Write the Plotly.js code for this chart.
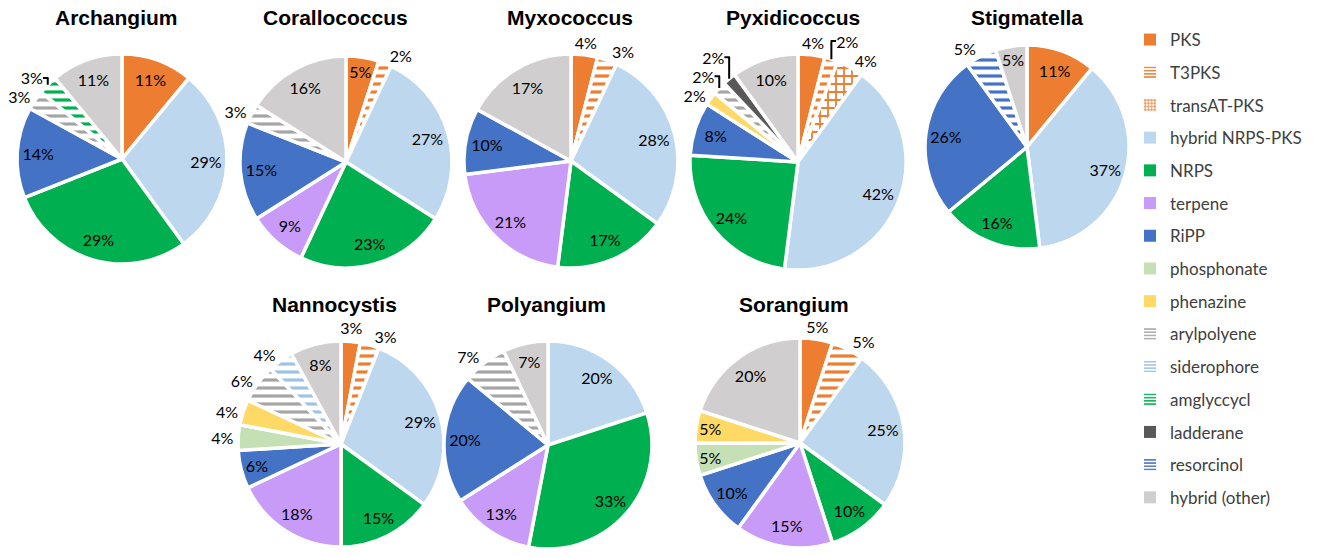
<!DOCTYPE html>
<html>
<head>
<meta charset="utf-8">
<script src="https://cdn.plot.ly/plotly-3.0.1.min.js"></script>
<style>
  html, body { margin: 0; padding: 0; background: #fff; }
  #chart { width: 1325px; height: 558px; }
</style>
</head>
<body>
<div id="chart"></div>
<script>
// BGC class order (also the clockwise slice order, starting at 12 o'clock)
const CATEGORIES = [
  "PKS", "T3PKS", "transAT-PKS", "hybrid NRPS-PKS", "NRPS", "terpene", "RiPP",
  "phosphonate", "phenazine", "arylpolyene", "siderophore", "amglyccycl",
  "ladderane", "resorcinol", "hybrid (other)",
];

// percent of BGCs per genus, same order as CATEGORIES (0 = class absent)
const ARCHANGIUM    = [11, 0, 0, 29, 29, 0, 14, 0, 0, 3, 0, 3, 0, 0, 11];
const CORALLOCOCCUS = [5, 2, 0, 27, 23, 9, 15, 0, 0, 3, 0, 0, 0, 0, 16];
const MYXOCOCCUS    = [4, 3, 0, 28, 17, 21, 10, 0, 0, 0, 0, 0, 0, 0, 17];
const PYXIDICOCCUS  = [4, 2, 4, 42, 24, 0, 8, 0, 2, 2, 0, 0, 2, 0, 10];
const STIGMATELLA   = [11, 0, 0, 37, 16, 0, 26, 0, 0, 0, 0, 0, 0, 5, 5];
const NANNOCYSTIS   = [3, 3, 0, 29, 15, 18, 6, 4, 4, 6, 4, 0, 0, 0, 8];
const POLYANGIUM    = [0, 0, 0, 20, 33, 13, 20, 0, 0, 7, 0, 0, 0, 0, 7];
const SORANGIUM     = [5, 5, 0, 25, 10, 15, 10, 5, 5, 0, 0, 0, 0, 0, 20];

// --- styling ---------------------------------------------------------------
const W = 1325, H = 558;

const COLORS = [
  "#ED7D31", "#ED7D31", "#ED7D31", "#BDD7EE", "#00B050", "#C79BF7", "#4472C4",
  "#C5E0B4", "#FFD966", "#A5A5A5", "#9DC3E6", "#00B050", "#595959", "#4472C4",
  "#D0CECE",
];
// "" = solid fill, otherwise a hatch on white
const SHAPES = ["", "-", "+", "", "", "", "", "", "", "-", "-", "-", "", "-", ""];

// small slices labelled off the pie:
//   "out"  = plotly outside label (stacked per quadrant)
//   "ring" = centred just above the rim (via a transparent ring overlay)
const OFF_PIE = {
  Archangium: { arylpolyene: "out", amglyccycl: "out" },
  Corallococcus: { T3PKS: "out", arylpolyene: "out" },
  Myxococcus: { PKS: "ring", T3PKS: "out" },
  Pyxidicoccus: {
    PKS: "ring", T3PKS: "out", "transAT-PKS": "out",
    phenazine: "out", arylpolyene: "out", ladderane: "out",
  },
  Stigmatella: { resorcinol: "out" },
  Nannocystis: {
    PKS: "ring", T3PKS: "out", phosphonate: "out",
    phenazine: "out", arylpolyene: "out", siderophore: "out",
  },
  Polyangium: { arylpolyene: "out" },
  Sorangium: { PKS: "ring", T3PKS: "out" },
};

// pie centre / radius and title position, in pixels
const PANELS = [
  { name: "Archangium",    values: ARCHANGIUM,    cx: 122,  cy: 159, r: 105, tx: 116,  ty: 17 },
  { name: "Corallococcus", values: CORALLOCOCCUS, cx: 346,  cy: 162, r: 106, tx: 335,  ty: 17 },
  { name: "Myxococcus",    values: MYXOCOCCUS,    cx: 571,  cy: 161, r: 107, tx: 570,  ty: 17 },
  { name: "Pyxidicoccus",  values: PYXIDICOCCUS,  cx: 798,  cy: 162, r: 108, tx: 793,  ty: 17 },
  { name: "Stigmatella",   values: STIGMATELLA,   cx: 1027, cy: 147, r: 102, tx: 1027, ty: 17 },
  { name: "Nannocystis",   values: NANNOCYSTIS,   cx: 341,  cy: 444, r: 103, tx: 334,  ty: 304 },
  { name: "Polyangium",    values: POLYANGIUM,    cx: 548,  cy: 445, r: 104, tx: 546,  ty: 304 },
  { name: "Sorangium",     values: SORANGIUM,     cx: 800,  cy: 443, r: 105, tx: 794,  ty: 304 },
];

const LABEL_FONT = { family: "Lato, 'Open Sans', sans-serif", size: 16, color: "#000" };
const LABEL_HOLE = 0.6; // pushes inside labels out to ~0.8 r like Excel's best-fit
const RING = 24;        // width (px) of the ring that carries "ring" labels
const CLEAR = "rgba(0,0,0,0)";

const sliceIdx = (values) => values.map((_, i) => i).filter((i) => values[i] > 0);
const domainFor = (cx, cy, r) => ({
  x: [(cx - r) / W, (cx + r) / W],
  y: [1 - (cy + r) / H, 1 - (cy - r) / H],
});

function pieBase(p, idx) {
  return {
    type: "pie",
    sort: false,
    direction: "clockwise",
    rotation: 0,
    labels: idx.map((i) => CATEGORIES[i]),
    values: idx.map((i) => p.values[i]),
    showlegend: false,
  };
}

// visible slices, no text
function slicesTrace(p) {
  const idx = sliceIdx(p.values);
  return {
    ...pieBase(p, idx),
    name: p.name,
    domain: domainFor(p.cx, p.cy, p.r),
    marker: {
      colors: idx.map((i) => (SHAPES[i] ? "#FFFFFF" : COLORS[i])),
      line: { color: "#FFFFFF", width: 3.5 },
      pattern: {
        shape: idx.map((i) => SHAPES[i]),
        fgcolor: idx.map((i) => COLORS[i]),
        bgcolor: idx.map((i) => (SHAPES[i] ? "#FFFFFF" : COLORS[i])),
        fillmode: "replace",
        size: 8,
        solidity: 0.4,
      },
    },
    textinfo: "none",
    hovertemplate: `<b>${p.name}</b><br>%{label}: %{value}%<extra></extra>`,
  };
}

// transparent copy carrying inside labels and plotly outside labels
function labelTrace(p) {
  const idx = sliceIdx(p.values);
  const off = OFF_PIE[p.name] || {};
  return {
    ...pieBase(p, idx),
    domain: domainFor(p.cx, p.cy, p.r),
    hole: LABEL_HOLE,
    marker: { colors: idx.map(() => CLEAR), line: { width: 0 } },
    texttemplate: "%{value}%",
    textposition: idx.map((i) => {
      const m = off[CATEGORIES[i]];
      return m === "ring" ? "none" : m === "out" ? "outside" : "inside";
    }),
    insidetextorientation: "horizontal",
    textfont: LABEL_FONT,
    hoverinfo: "skip",
  };
}

// transparent ring just outside the pie carrying centred labels
function ringTrace(p) {
  const idx = sliceIdx(p.values);
  const off = OFF_PIE[p.name] || {};
  if (!idx.some((i) => off[CATEGORIES[i]] === "ring")) return null;
  const R = p.r + RING;
  return {
    ...pieBase(p, idx),
    domain: domainFor(p.cx, p.cy, R),
    hole: p.r / R,
    marker: { colors: idx.map(() => CLEAR), line: { width: 0 } },
    texttemplate: "%{value}%",
    textposition: idx.map((i) => (off[CATEGORIES[i]] === "ring" ? "inside" : "none")),
    insidetextorientation: "horizontal",
    textfont: LABEL_FONT,
    hoverinfo: "skip",
  };
}

// legend is built from empty bar traces so that entry spacing can be set
const legendTraces = CATEGORIES.map((c, i) => ({
  type: "bar",
  x: [null],
  y: [null],
  name: c,
  legendgroup: "g" + i,
  marker: {
    color: SHAPES[i] ? "#FFFFFF" : COLORS[i],
    line: { width: 0 },
    pattern: {
      shape: SHAPES[i],
      fgcolor: COLORS[i],
      bgcolor: "#FFFFFF",
      fillmode: "replace",
      size: 4,
      solidity: 0.45,
    },
  },
  hoverinfo: "skip",
}));

const traces = [
  ...PANELS.map(slicesTrace),
  ...PANELS.map(labelTrace),
  ...PANELS.map(ringTrace).filter(Boolean),
  ...legendTraces,
];

const layout = {
  width: W,
  height: H,
  margin: { l: 0, r: 0, t: 0, b: 0 },
  paper_bgcolor: "#FFFFFF",
  plot_bgcolor: "rgba(0,0,0,0)",
  showlegend: true,
  xaxis: { visible: false, fixedrange: true },
  yaxis: { visible: false, fixedrange: true },
  uniformtext: { mode: "show", minsize: 16 },
  legend: {
    x: 1130 / W,
    xanchor: "left",
    y: 1 - 22 / H,
    yanchor: "top",
    traceorder: "grouped",
    tracegroupgap: 7.6,
    bgcolor: "rgba(0,0,0,0)",
    font: { family: "Lato, 'Open Sans', sans-serif", size: 17, color: "#404040" },
    itemclick: false,
    itemdoubleclick: false,
  },
  annotations: PANELS.map((p) => ({
    text: `<b>${p.name}</b>`,
    x: p.tx / W,
    y: 1 - p.ty / H,
    xref: "paper",
    yref: "paper",
    xanchor: "center",
    yanchor: "middle",
    showarrow: false,
    font: { family: "'Liberation Sans', Arial, sans-serif", size: 21, color: "#000" },
  })),
};

Plotly.newPlot("chart", traces, layout, { displayModeBar: false, responsive: false });
</script>
</body>
</html>
